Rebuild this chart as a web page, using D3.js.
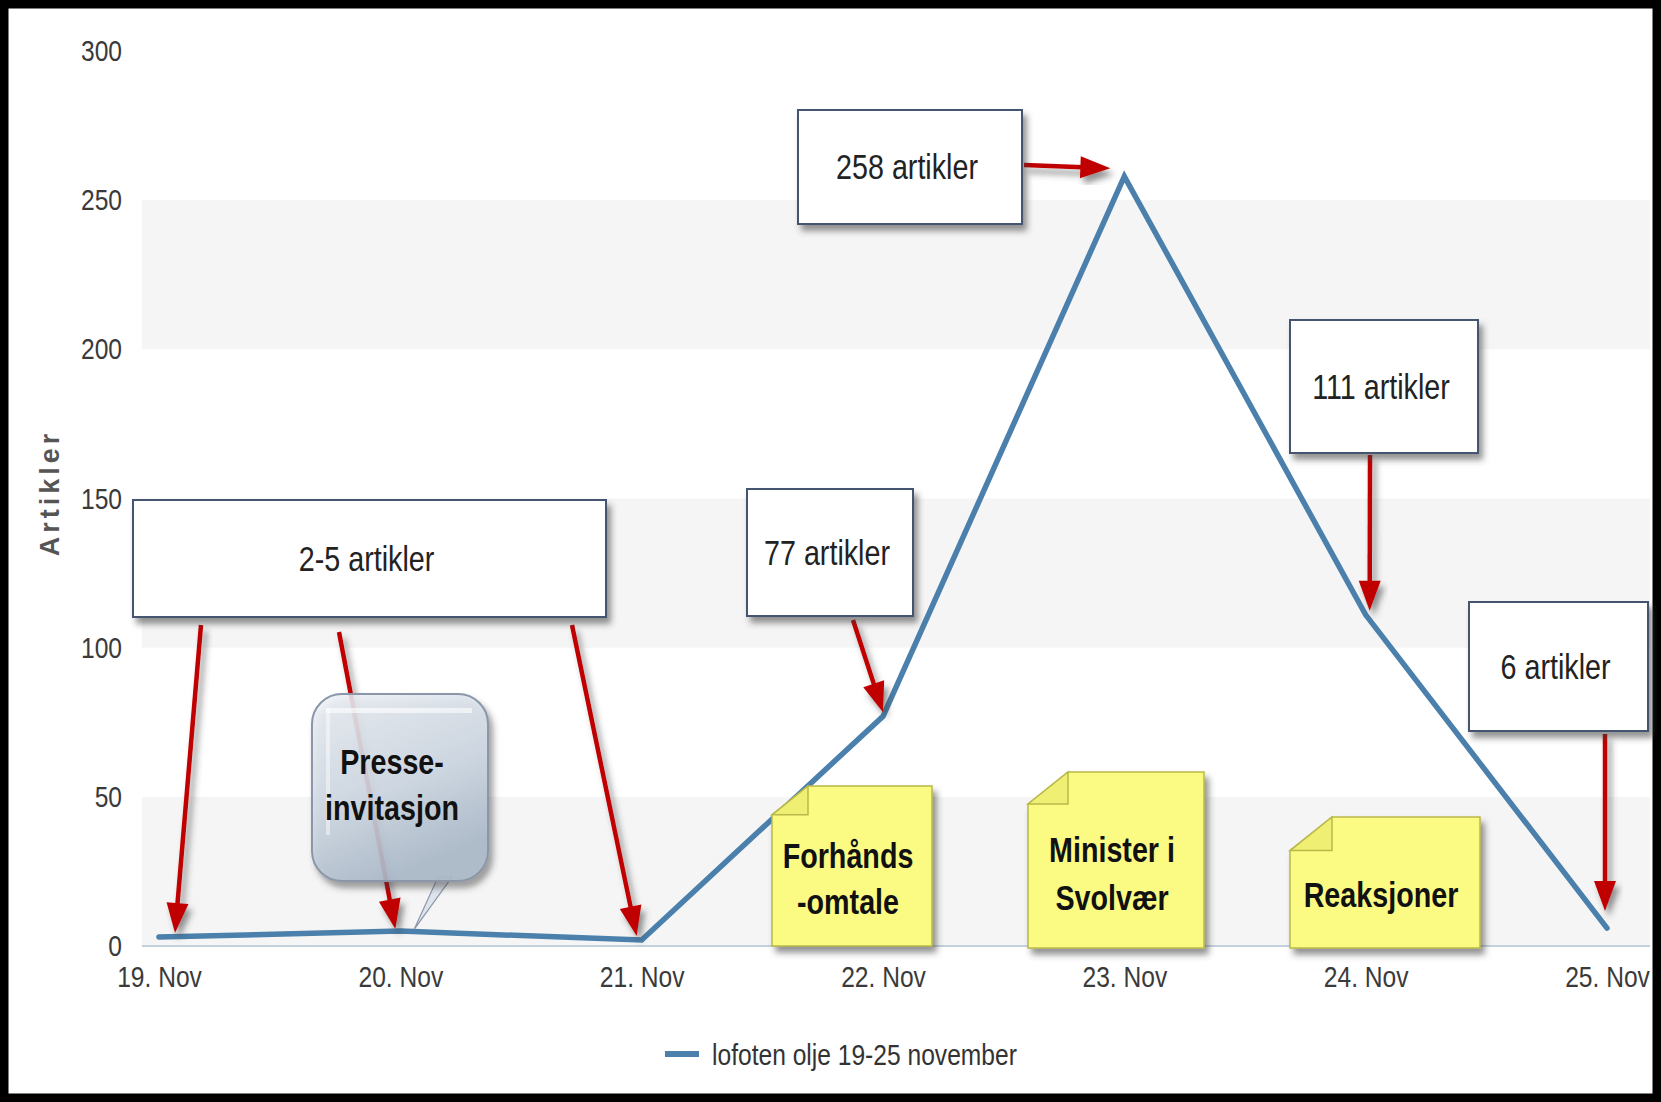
<!DOCTYPE html>
<html>
<head>
<meta charset="utf-8">
<script src="https://cdn.jsdelivr.net/npm/d3@7"></script>
<style>
  html, body { margin: 0; padding: 0; background: #fff; }
  svg { display: block; }
</style>
</head>
<body>
<script>
// ---------------- data ----------------
const categories = ["19. Nov", "20. Nov", "21. Nov", "22. Nov", "23. Nov", "24. Nov", "25. Nov"];
const articleCounts = [3, 5, 2, 77, 258, 111, 6];
const yTicks = [0, 50, 100, 150, 200, 250, 300];
const seriesName = "lofoten olje 19-25 november";
const axisTitle = "Artikler";
const boxLabels = ["2-5 artikler", "77 artikler", "258 artikler", "111 artikler", "6 artikler"];
const noteLabels = [["Forhånds", "-omtale"], ["Minister i", "Svolvær"], ["Reaksjoner"]];
const calloutLabel = ["Presse-", "invitasjon"];

// ---------------- layout ----------------
const W = 1661, H = 1102;
const FONT = "'Liberation Sans', Arial, Helvetica, sans-serif";
const SQ = 0.82; // narrow look

const svg = d3.select("body").append("svg").attr("width", W).attr("height", H);
const defs = svg.append("defs");
const shadow = defs.append("filter").attr("id", "shadow")
  .attr("x", "-20%").attr("y", "-20%").attr("width", "150%").attr("height", "150%");
shadow.append("feDropShadow").attr("dx", 4).attr("dy", 6).attr("stdDeviation", 3)
  .attr("flood-color", "#3a3a3a").attr("flood-opacity", 0.55);

const cg = defs.append("linearGradient").attr("id", "calloutGrad")
  .attr("x1", "0").attr("y1", "0").attr("x2", "0.4").attr("y2", "1");
cg.append("stop").attr("offset", "0%").attr("stop-color", "#eef2f7");
cg.append("stop").attr("offset", "60%").attr("stop-color", "#cfd9e5");
cg.append("stop").attr("offset", "100%").attr("stop-color", "#aebdcd");

// frame
svg.append("rect").attr("x", 4).attr("y", 4).attr("width", W - 8).attr("height", H - 8)
  .attr("fill", "#fff").attr("stroke", "#000").attr("stroke-width", 9);

const plotLeft = 142, plotRight = 1650;
const x = d3.scalePoint().domain(categories).range([159, 1607]);
const y = d3.scaleLinear().domain([0, 300]).range([946, 51]);

function sqText(sel, cx, cy, txt, size, weight, fill, anchor) {
  return sel.append("text")
    .attr("transform", `translate(${cx},${cy}) scale(${SQ},1)`)
    .attr("text-anchor", anchor || "middle")
    .attr("dy", "0.35em")
    .attr("font-family", FONT).attr("font-size", size).attr("font-weight", weight)
    .attr("fill", fill).text(txt);
}

// alternate bands
const bands = yTicks.filter((t, i) => i % 2 === 0 && i < yTicks.length - 1);
svg.append("g").selectAll("rect").data(bands).join("rect")
  .attr("x", plotLeft).attr("width", plotRight - plotLeft)
  .attr("y", d => y(d + 50)).attr("height", d => y(d) - y(d + 50))
  .attr("fill", "#f5f5f5");

// baseline
svg.append("line").attr("x1", plotLeft).attr("x2", plotRight)
  .attr("y1", y(0)).attr("y2", y(0)).attr("stroke", "#c4d0de").attr("stroke-width", 2);

// y axis
const yAxis = svg.append("g").attr("transform", `translate(122,0)`)
  .call(d3.axisLeft(y).tickValues(yTicks).tickSize(0).tickPadding(0));
yAxis.select(".domain").remove();
yAxis.selectAll("text")
  .attr("font-family", FONT).attr("font-size", 30).attr("fill", "#3a3a3a")
  .attr("x", 0).attr("transform", `scale(${SQ},1)`);

// x axis
const xAxis = svg.append("g").attr("transform", `translate(0,${y(0)})`)
  .call(d3.axisBottom(x).tickSize(0).tickPadding(0));
xAxis.select(".domain").remove();
xAxis.selectAll("text")
  .attr("font-family", FONT).attr("font-size", 30).attr("fill", "#3a3a3a")
  .attr("y", 31).attr("dy", "0.35em").attr("transform", `scale(${SQ},1)`)
  .attr("x", 0);

// axis title
svg.append("text")
  .attr("transform", `translate(50,493) rotate(-90)`)
  .attr("text-anchor", "middle").attr("dy", "0.35em")
  .attr("font-family", FONT).attr("font-size", 27).attr("font-weight", "bold")
  .attr("letter-spacing", 4).attr("fill", "#555").text(axisTitle);

// series line
const line = d3.line().x((d, i) => x(categories[i])).y(d => y(d));
svg.append("path").datum(articleCounts).attr("d", line)
  .attr("fill", "none").attr("stroke", "#4a80ab").attr("stroke-width", 5.5)
  .attr("stroke-linejoin", "miter").attr("stroke-miterlimit", 10).attr("stroke-linecap", "round");

// legend
svg.append("line").attr("x1", 665).attr("x2", 699).attr("y1", 1054).attr("y2", 1054)
  .attr("stroke", "#4a80ab").attr("stroke-width", 6);
sqText(svg, 712, 1054, seriesName, 30, "normal", "#333", "start");

// ---------------- annotations ----------------
// yellow notes
const notes = [
  { x: 772, y: 786, w: 160, h: 160, f: 36, ty: [856, 902] },
  { x: 1028, y: 772, w: 176, h: 176, f: 40, ty: [850, 898] },
  { x: 1290, y: 817, w: 190, h: 131, f: 42, ty: [895] }
];
const noteG = svg.append("g");
notes.forEach((n, i) => {
  const g = noteG.append("g");
  g.append("path")
    .attr("d", `M${n.x + n.f},${n.y} L${n.x + n.w},${n.y} L${n.x + n.w},${n.y + n.h} L${n.x},${n.y + n.h} L${n.x},${n.y + n.f * 0.8} Z`)
    .attr("fill", "#fbfb84").attr("stroke", "#b9b94a").attr("stroke-width", 1.5)
    .attr("filter", "url(#shadow)");
  g.append("path")
    .attr("d", `M${n.x},${n.y + n.f * 0.8} L${n.x + n.f},${n.y + n.f * 0.8} L${n.x + n.f},${n.y} Z`)
    .attr("fill", "#efef74").attr("stroke", "#b9b94a").attr("stroke-width", 1.5);
  noteLabels[i].forEach((t, j) => {
    sqText(g, n.x + n.w / 2 - 4, n.ty[j], t, 35, "bold", "#111");
  });
});

// arrows
function arrow(sel, x1, y1, x2, y2) {
  const dx = x2 - x1, dy = y2 - y1, L = Math.hypot(dx, dy);
  const ux = dx / L, uy = dy / L, hl = 30, hw = 11;
  const bx = x2 - ux * hl, by = y2 - uy * hl;
  const g = sel.append("g").attr("filter", "url(#shadow)");
  g.append("line").attr("x1", x1).attr("y1", y1).attr("x2", bx + ux * 2).attr("y2", by + uy * 2)
    .attr("stroke", "#c00000").attr("stroke-width", 4.5);
  g.append("path")
    .attr("d", `M${x2},${y2} L${bx - uy * hw},${by + ux * hw} L${bx + uy * hw},${by - ux * hw} Z`)
    .attr("fill", "#c00000");
}
const arrows = [
  { from: [201, 625], idx: 0, off: [16, -4] },
  { from: [339, 632], idx: 1, off: [-5, -2] },
  { from: [572, 625], idx: 2, off: [-5, -4] },
  { from: [853, 620], idx: 3, off: [0, -4] },
  { from: [1024, 165], idx: 4, off: [-14, -8] },
  { from: [1370, 455], idx: 5, off: [4, -4] },
  { from: [1605, 734], idx: 6, off: [-2, -17] }
];
const arrowG = svg.append("g");
arrows.forEach(a => {
  const tx = x(categories[a.idx]) + a.off[0];
  const ty = y(articleCounts[a.idx]) + a.off[1];
  arrow(arrowG, a.from[0], a.from[1], tx, ty);
});

// label boxes
const boxes = [
  { x: 133, y: 500, w: 473, h: 117 },
  { x: 747, y: 489, w: 166, h: 127 },
  { x: 798, y: 110, w: 224, h: 114 },
  { x: 1290, y: 320, w: 188, h: 133 },
  { x: 1469, y: 602, w: 179, h: 129 }
];
const boxG = svg.append("g");
boxes.forEach((b, i) => {
  boxG.append("rect").attr("x", b.x).attr("y", b.y).attr("width", b.w).attr("height", b.h)
    .attr("fill", "#fff").attr("stroke", "#45556f").attr("stroke-width", 2)
    .attr("filter", "url(#shadow)");
  sqText(boxG, b.x + b.w / 2 - 3, b.y + b.h / 2, boxLabels[i], 35, "normal", "#222");
});

// press invitation callout
const co = { x: 312, y: 694, w: 176, h: 187, r: 30 };
const coG = svg.append("g");
coG.append("path")
  .attr("d", `M${co.x + 126},${co.y + co.h - 4} L${co.x + 140},${co.y + co.h - 4} L${x(categories[1]) + 14},${y(articleCounts[1]) - 2} Z`)
  .attr("fill", "#dde4ec").attr("stroke", "#8b97a8").attr("stroke-width", 1.2);
coG.append("rect").attr("x", co.x).attr("y", co.y).attr("width", co.w).attr("height", co.h)
  .attr("rx", co.r).attr("ry", co.r)
  .attr("fill", "url(#calloutGrad)").attr("fill-opacity", 0.85)
  .attr("stroke", "#8b97a8").attr("stroke-width", 2).attr("filter", "url(#shadow)");
coG.append("rect").attr("x", co.x + 14).attr("y", co.y + 14).attr("width", co.w - 30).attr("height", 5)
  .attr("fill", "#fff").attr("opacity", 0.6);
coG.append("rect").attr("x", co.x + 14).attr("y", co.y + 14).attr("width", 4).attr("height", co.h - 60)
  .attr("fill", "#fff").attr("opacity", 0.45);
sqText(coG, 392, 762, calloutLabel[0], 35, "bold", "#111");
sqText(coG, 392, 808, calloutLabel[1], 35, "bold", "#111");
</script>
</body>
</html>
